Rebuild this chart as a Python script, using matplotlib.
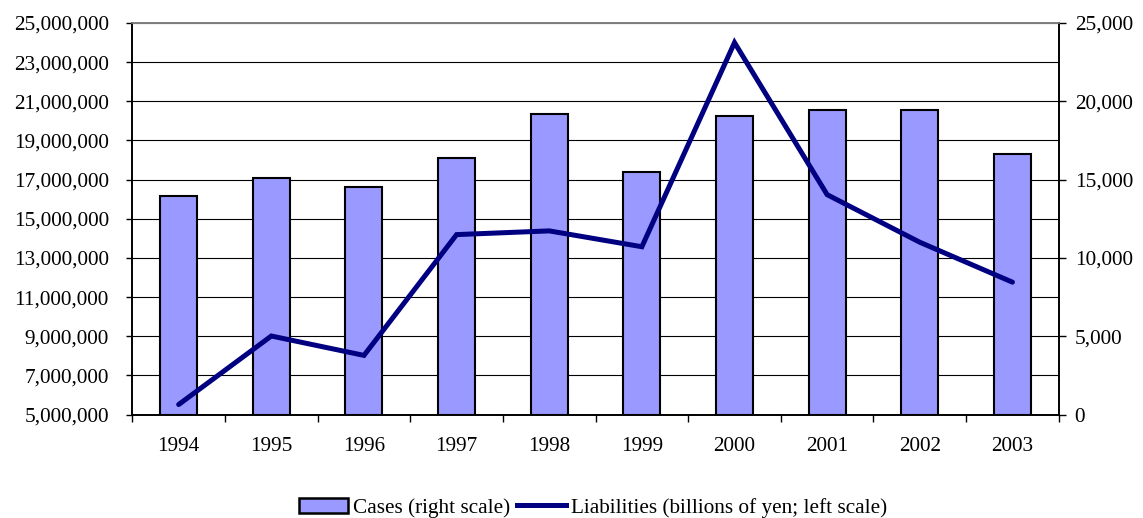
import matplotlib
matplotlib.use("Agg")
import matplotlib.pyplot as plt
from matplotlib.ticker import FuncFormatter, MultipleLocator, FixedLocator
from matplotlib.patches import Patch
from matplotlib.lines import Line2D
import numpy as np

years = ["1994", "1995", "1996", "1997", "1998", "1999", "2000", "2001", "2002", "2003"]
cases = [13980, 15080, 14530, 16360, 19160, 15460, 19080, 19440, 19460, 16630]
liabilities = [5510000, 9010000, 8020000, 14190000, 14380000, 13570000, 24000000, 16230000, 13800000, 11760000]
left_ticks = [5000000, 7000000, 9000000, 11000000, 13000000, 15000000,
              17000000, 19000000, 21000000, 23000000, 25000000]
right_ticks = [0, 5000, 10000, 15000, 20000, 25000]

plt.rcParams['font.family'] = ['Liberation Serif', 'DejaVu Serif']
fs = 15.3

fig = plt.figure(figsize=(11.43, 5.18), dpi=100)
fig.patch.set_facecolor('white')

ax2 = fig.add_axes([0.1158, 0.1998, 0.9263 - 0.1158, 0.9556 - 0.1998])
ax = ax2.twinx()
ax.yaxis.tick_left()
ax.yaxis.set_label_position('left')
ax2.yaxis.tick_right()
ax2.yaxis.set_label_position('right')
ax.set_zorder(ax2.get_zorder() + 1)
ax.patch.set_visible(False)

x = np.arange(len(years))

# bars on right scale
ax2.bar(x, cases, width=0.40, color='#9999FF', edgecolor='black', linewidth=1.5, zorder=3)
ax2.set_ylim(0, 25000)
ax2.yaxis.set_major_locator(FixedLocator(right_ticks))
ax2.yaxis.set_minor_locator(MultipleLocator(2500))
ax2.yaxis.set_major_formatter(FuncFormatter(lambda v, p: f"{int(v):,}"))
ax2.grid(axis='y', which='both', color='black', linewidth=0.8, zorder=0)
ax2.set_axisbelow(True)
ax2.tick_params(axis='y', which='major', direction='out', length=5, width=1, labelsize=fs, pad=6.5)
ax2.tick_params(axis='y', which='minor', length=0)

# line on left scale
ax.plot(x, liabilities, color='#000080', linewidth=3.6, solid_capstyle='round', solid_joinstyle='miter', zorder=5)
ax.set_ylim(5000000, 25000000)
ax.yaxis.set_major_locator(FixedLocator(left_ticks))
ax.yaxis.set_major_formatter(FuncFormatter(lambda v, p: f"{int(v):,}"))
ax.tick_params(axis='y', which='major', direction='out', length=4.5, width=1, labelsize=fs, pad=12.5)

ax2.set_xlim(-0.5, len(years) - 0.5)
ax.set_xlim(-0.5, len(years) - 0.5)
ax2.set_xticks(x)
ax2.set_xticklabels(years, fontsize=fs)
ax2.set_xticks(np.arange(-0.5, len(years) + 0.5, 1.0), minor=True)
ax2.tick_params(axis='x', which='major', length=0, pad=16, labelsize=fs)
ax2.tick_params(axis='x', which='minor', direction='out', length=5, width=1)
ax.tick_params(axis='x', which='both', length=0, labelbottom=False)

for a in (ax, ax2):
    for s in ('left', 'right', 'bottom'):
        a.spines[s].set_color('black')
        a.spines[s].set_linewidth(1.2)
    a.spines['top'].set_color('#808080')
    a.spines['top'].set_linewidth(1.2)

handles = [Patch(facecolor='#9999FF', edgecolor='black', linewidth=1.8),
           Line2D([0], [0], color='#000080', linewidth=3.6)]
labels = ["Cases (right scale)", "Liabilities (billions of yen; left scale)"]
fig.legend(handles, labels, loc='center', bbox_to_anchor=(0.519, 0.02), ncol=2,
           frameon=False, fontsize=fs, handlelength=2.3, handletextpad=0.25,
           columnspacing=0.3, handleheight=0.75)

fig.savefig('out.png', dpi=100, facecolor='white')
